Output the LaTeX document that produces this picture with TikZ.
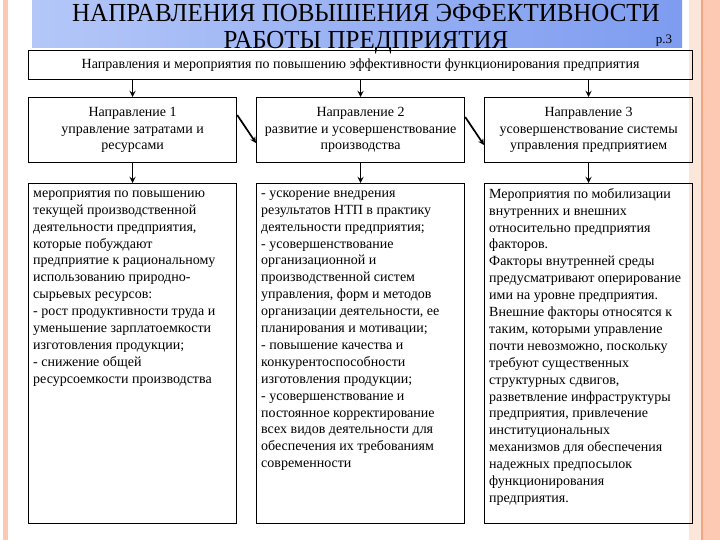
\documentclass[tikz,border=0pt]{standalone}
\usepackage{fontspec}
\setmainfont{Liberation Serif}
\definecolor{lososj}{HTML}{FDC9B3}
\definecolor{persik}{HTML}{FCE6DA}
\definecolor{oranzh}{HTML}{F4A47E}
\definecolor{sinijL}{HTML}{B4C7F8}
\definecolor{sinijR}{HTML}{7E9CF0}
\begin{document}
\begin{tikzpicture}[x=1pt, y=-1pt,
    ramka/.style={draw, line width=1.2pt, rectangle, inner sep=0pt, anchor=north west},
    napr/.style={ramka, minimum width=208pt, minimum height=65pt, align=center,
                  font=\fontsize{14}{16.5}\selectfont},
    meropr/.style={ramka, minimum width=208pt, minimum height=340pt},
    tekst/.style={anchor=north west, inner sep=0pt, align=left,
                  font=\fontsize{14}{16.9}\selectfont},
    strelka/.style={->, >=stealth, line width=1.7pt}]

    \useasboundingbox (0,0) rectangle (720,540);

    % ========== фон слайда ==========
    \fill[lososj] (3,0) rectangle (8,540);
    \fill[persik] (689,0) rectangle (702,540);
    \fill[lososj] (703,0) rectangle (720,540);
    \draw[oranzh, line width=1.2pt] (702,0) -- (702,540);

    % заголовок на синей полосе
    \shade[left color=sinijL, right color=sinijR] (32,0) rectangle (682,48);
    \node (zag) at (366,29.5) [align=center, xscale=0.96,
                             font=\fontsize{26}{27}\selectfont]
         {НАПРАВЛЕНИЯ ПОВЫШЕНИЯ ЭФФЕКТИВНОСТИ\\РАБОТЫ ПРЕДПРИЯТИЯ};
    \node (str) at (664,41) [font=\fontsize{13}{13}\selectfont] {р.3};

    % ========== верхний блок ==========
    \node[ramka, minimum width=664pt, minimum height=29pt,
          font=\fontsize{14}{16}\selectfont] (vverh) at (28,50)
         {Направления и мероприятия по повышению эффективности функционирования предприятия};

    % ========== три направления ==========
    \node[napr] (n1) at (28,97)  {Направление 1\\управление затратами и\\ресурсами};
    \node[napr] (n2) at (256,97) {Направление 2\\развитие и усовершенствование\\производства};
    \node[napr] (n3) at (484,97) {Направление 3\\усовершенствование системы\\управления предприятием};

    % ========== мероприятия ==========
    \node[meropr] (m1) at (28,183)  {};
    \node[meropr] (m2) at (256,183) {};
    \node[meropr] (m3) at (484,183) {};

    \node[tekst] (t1) at ([xshift=5pt, yshift=-5pt]m1.north west) {%
      \vphantom{М}мероприятия по повышению\\
      текущей производственной\\
      деятельности предприятия,\\
      которые побуждают\\
      предприятие к рациональному\\
      использованию природно-\\
      сырьевых ресурсов:\\
      - рост продуктивности труда и\\
      уменьшение зарплатоемкости\\
      изготовления продукции;\\
      - снижение общей\\
      ресурсоемкости производства};

    \node[tekst] (t2) at ([xshift=5pt, yshift=-5pt]m2.north west) {%
      \vphantom{М}- ускорение внедрения\\
      результатов НТП в практику\\
      деятельности предприятия;\\
      - усовершенствование\\
      организационной и\\
      производственной систем\\
      управления, форм и методов\\
      организации деятельности, ее\\
      планирования и мотивации;\\
      - повышение качества и\\
      конкурентоспособности\\
      изготовления продукции;\\
      - усовершенствование и\\
      постоянное корректирование\\
      всех видов деятельности для\\
      обеспечения их требованиям\\
      современности};

    \node[tekst] (t3) at ([xshift=5pt, yshift=-5pt]m3.north west) {%
      Мероприятия по мобилизации\\
      внутренних и внешних\\
      относительно предприятия\\
      факторов.\\
      Факторы внутренней среды\\
      предусматривают оперирование\\
      ими на уровне предприятия.\\
      Внешние факторы относятся к\\
      таким, которыми управление\\
      почти невозможно, поскольку\\
      требуют существенных\\
      структурных сдвигов,\\
      разветвление инфраструктуры\\
      предприятия, привлечение\\
      институциональных\\
      механизмов для обеспечения\\
      надежных предпосылок\\
      функционирования\\
      предприятия.};

    % ========== стрелки ==========
    \foreach \n in {n1,n2,n3}
      \draw[strelka] (\n.north |- vverh.south) -- (\n.north);
    \foreach \n/\m in {n1/m1,n2/m2,n3/m3}
      \draw[strelka] (\n.south) -- (\m.north);

    % диагональные стрелки между направлениями
    \draw[strelka] ([yshift=-18pt]n1.north east) -- ([yshift=-46pt]n2.north west);
    \draw[strelka] ([yshift=-20pt]n2.north east) -- ([yshift=-48pt]n3.north west);

\end{tikzpicture}
\end{document}
